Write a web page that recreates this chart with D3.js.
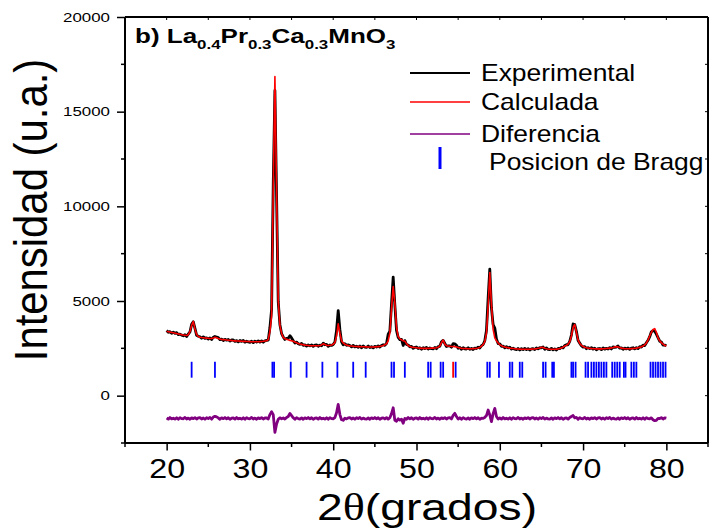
<!DOCTYPE html>
<html>
<head>
<meta charset="utf-8">
<script src="https://cdn.jsdelivr.net/npm/d3@7"></script>
<style>
  html, body { margin: 0; padding: 0; background: #fff; }
  svg { display: block; }
  text { font-family: "Liberation Sans", Arial, sans-serif; }
</style>
</head>
<body>
<svg id="chart" width="717" height="531"></svg>
<script>
// Scan: 2θ from 20° to 80° in 0.2° steps
const scanStart = 20, scanStep = 0.2;

// Observed intensity (counts), 10 points per row = 2° per row
const yObs = [
  3440, 3350, 3380, 3295, 3355, 3290, 3330, 3220, 3255, 3195,
  3165, 3215, 3130, 3250, 3365, 3765, 3900, 3555, 3185, 3140,
  3110, 3030, 3105, 3025, 3050, 2995, 3050, 2970, 3080, 3125,
  3100, 3070, 2960, 2985, 2915, 2975, 2930, 2970, 2885, 2940,
  2940, 2865, 2910, 2840, 2915, 2865, 2920, 2825, 2875, 2835,
  2820, 2875, 2800, 2880, 2835, 2895, 2835, 2895, 2825, 2900,
  2920, 2930, 3600, 4550, 11200, 16120, 10500, 4950, 3750, 3280,
  3100, 2970, 3025, 3030, 3170, 3050, 2900, 2780, 2830, 2745,
  2710, 2760, 2660, 2685, 2615, 2675, 2630, 2680, 2605, 2670,
  2680, 2610, 2670, 2635, 2775, 2690, 2710, 2610, 2675, 2655,
  2700, 2830, 3450, 4490, 3500, 2850, 2690, 2740, 2660, 2680,
  2650, 2580, 2655, 2575, 2610, 2555, 2620, 2530, 2620, 2565,
  2555, 2620, 2540, 2585, 2525, 2600, 2570, 2630, 2565, 2650,
  2690, 2660, 2760, 3250, 3400, 4850, 6260, 4800, 3450, 3075,
  2965, 2975, 2650, 2910, 2705, 2675, 2580, 2605, 2505, 2550,
  2570, 2490, 2530, 2455, 2535, 2490, 2550, 2460, 2520, 2485,
  2475, 2545, 2480, 2590, 2605, 2845, 2920, 2755, 2595, 2630,
  2630, 2560, 2745, 2735, 2660, 2505, 2550, 2450, 2530, 2475,
  2465, 2530, 2450, 2495, 2440, 2515, 2490, 2560, 2515, 2640,
  2700, 2900, 3450, 5140, 6680, 4630, 3750, 3570, 3000, 2750,
  2740, 2610, 2620, 2525, 2585, 2520, 2560, 2460, 2505, 2455,
  2435, 2490, 2410, 2485, 2435, 2495, 2430, 2485, 2410, 2470,
  2485, 2430, 2525, 2475, 2530, 2525, 2570, 2450, 2520, 2450,
  2435, 2500, 2420, 2470, 2415, 2495, 2480, 2560, 2525, 2650,
  2690, 2690, 2870, 3205, 3785, 3750, 3400, 2910, 2775, 2635,
  2565, 2585, 2480, 2540, 2485, 2535, 2460, 2510, 2425, 2480,
  2490, 2430, 2520, 2455, 2500, 2465, 2540, 2470, 2580, 2555,
  2570, 2620, 2510, 2525, 2450, 2510, 2470, 2520, 2445, 2515,
  2530, 2470, 2530, 2485, 2585, 2570, 2670, 2640, 2795, 2925,
  3115, 3375, 3440, 3400, 3250, 3065, 2880, 2835, 2675, 2670,
  2640
];

// Calculated profile (counts)
const yCalc = [
  3400, 3380, 3360, 3340, 3320, 3300, 3280, 3260, 3240, 3220,
  3200, 3190, 3180, 3220, 3380, 3720, 3920, 3520, 3230, 3130,
  3090, 3070, 3060, 3050, 3040, 3030, 3020, 3020, 3040, 3080,
  3060, 3020, 2990, 2970, 2960, 2950, 2940, 2930, 2920, 2910,
  2900, 2895, 2890, 2885, 2880, 2875, 2870, 2865, 2860, 2860,
  2855, 2850, 2850, 2850, 2850, 2850, 2855, 2860, 2870, 2890,
  2900, 2960, 3400, 4200, 11000, 16860, 10800, 5000, 3700, 3300,
  3080, 3010, 2980, 2950, 2920, 2900, 2870, 2830, 2790, 2760,
  2730, 2710, 2690, 2670, 2660, 2650, 2640, 2640, 2640, 2640,
  2640, 2640, 2650, 2680, 2740, 2700, 2660, 2650, 2660, 2680,
  2720, 2800, 3150, 3790, 3300, 2900, 2780, 2720, 2680, 2650,
  2630, 2620, 2610, 2600, 2600, 2590, 2590, 2580, 2580, 2580,
  2575, 2570, 2570, 2570, 2570, 2575, 2580, 2590, 2600, 2620,
  2650, 2690, 2740, 2900, 3300, 4600, 5760, 4900, 3600, 3120,
  3000, 2950, 2900, 2880, 2750, 2650, 2600, 2570, 2550, 2540,
  2530, 2520, 2510, 2500, 2500, 2500, 2500, 2500, 2505, 2510,
  2510, 2520, 2530, 2560, 2620, 2800, 2940, 2720, 2640, 2620,
  2610, 2600, 2600, 2590, 2570, 2540, 2520, 2500, 2490, 2490,
  2485, 2480, 2480, 2480, 2485, 2490, 2500, 2520, 2550, 2610,
  2700, 2850, 3300, 4700, 6500, 4800, 3500, 3050, 2900, 2780,
  2700, 2640, 2600, 2570, 2550, 2530, 2510, 2500, 2490, 2480,
  2470, 2465, 2460, 2455, 2450, 2450, 2450, 2450, 2455, 2460,
  2465, 2470, 2480, 2500, 2520, 2560, 2540, 2500, 2480, 2465,
  2455, 2450, 2450, 2455, 2460, 2470, 2490, 2520, 2560, 2620,
  2650, 2720, 2850, 3150, 3600, 3760, 3350, 2950, 2760, 2660,
  2600, 2560, 2530, 2510, 2500, 2490, 2480, 2475, 2470, 2470,
  2470, 2470, 2475, 2480, 2490, 2500, 2510, 2520, 2540, 2570,
  2590, 2570, 2540, 2510, 2495, 2485, 2480, 2480, 2480, 2485,
  2490, 2500, 2510, 2530, 2550, 2580, 2620, 2680, 2780, 2950,
  3150, 3350, 3500, 3540, 3350, 3050, 2900, 2800, 2720, 2660,
  2620
];

// Difference curve, plotted with an offset below the pattern
const yDiff = [
  -1180, -1240, -1155, -1225, -1190, -1235, -1170, -1250, -1160, -1215,
  -1220, -1150, -1230, -1185, -1245, -1175, -1210, -1160, -1235, -1170,
  -1160, -1230, -1180, -1245, -1165, -1210, -1150, -1240, -1130, -1090,
  -1120, -1175, -1250, -1170, -1215, -1155, -1220, -1165, -1245, -1190,
  -1180, -1240, -1155, -1225, -1190, -1235, -1170, -1250, -1160, -1215,
  -1220, -1150, -1230, -1185, -1245, -1175, -1210, -1160, -1235, -1170,
  -1180, -1230, -1000, -850, -1000, -1940, -1500, -1250, -1170, -1220,
  -1180, -1240, -1150, -1100, -940, -1050, -1170, -1250, -1160, -1215,
  -1235, -1175, -1250, -1170, -1215, -1155, -1220, -1165, -1245, -1190,
  -1180, -1240, -1155, -1225, -1190, -1235, -1170, -1250, -1160, -1215,
  -1220, -1160, -900, -460, -1000, -1270, -1300, -1190, -1230, -1170,
  -1160, -1230, -1180, -1245, -1165, -1210, -1150, -1240, -1185, -1225,
  -1235, -1175, -1250, -1170, -1215, -1155, -1220, -1165, -1245, -1190,
  -1170, -1230, -1160, -1240, -1165, -950, -640, -1300, -1350, -1220,
  -1290, -1240, -1460, -1200, -1245, -1155, -1220, -1165, -1245, -1190,
  -1180, -1240, -1155, -1225, -1190, -1235, -1170, -1250, -1160, -1215,
  -1220, -1150, -1230, -1185, -1245, -1175, -1210, -1160, -1235, -1170,
  -1160, -1230, -1040, -930, -1100, -1235, -1170, -1250, -1160, -1215,
  -1235, -1175, -1250, -1170, -1215, -1155, -1220, -1165, -1245, -1190,
  -1200, -1150, -1050, -760, -1020, -1370, -950, -670, -1100, -1230,
  -1180, -1240, -1155, -1225, -1190, -1235, -1170, -1250, -1160, -1215,
  -1220, -1150, -1230, -1185, -1245, -1175, -1210, -1160, -1235, -1170,
  -1160, -1230, -1180, -1245, -1165, -1210, -1150, -1240, -1185, -1225,
  -1235, -1175, -1250, -1170, -1215, -1155, -1220, -1165, -1245, -1190,
  -1180, -1240, -1155, -1100, -1050, -1170, -1150, -1250, -1160, -1215,
  -1220, -1150, -1230, -1185, -1245, -1175, -1210, -1160, -1235, -1170,
  -1160, -1230, -1180, -1245, -1165, -1210, -1150, -1240, -1185, -1225,
  -1235, -1175, -1250, -1170, -1215, -1155, -1220, -1165, -1245, -1190,
  -1180, -1240, -1155, -1225, -1190, -1235, -1170, -1250, -1160, -1215,
  -1220, -1170, -1270, -1320, -1300, -1200, -1210, -1160, -1235, -1170,
  -1190
];

// Bragg reflection positions (2θ)
const braggMain = [
  23.0, 25.8, 32.7, 32.9, 34.9, 36.8, 38.7, 40.5, 42.4, 43.9,
  47.0, 47.3, 48.6, 51.4, 51.7, 52.9, 53.2, 54.7, 58.5, 58.8,
  59.9, 61.2, 61.5, 62.4, 62.7, 65.2, 65.5, 66.3, 66.5, 68.6,
  68.8, 69.1, 70.3, 70.6, 71.0, 71.3, 71.6, 71.9, 72.2, 72.5,
  72.8, 73.5, 73.8, 74.1, 74.4, 74.9, 75.1, 75.8, 76.1, 76.4,
  78.1, 78.4, 78.7, 79.0, 79.3, 79.6, 79.9
];
const braggRed = [54.4];
const braggBand = [950, 1790];   // vertical extent of the tick row (counts)

// Axes
const xTicks = [20, 30, 40, 50, 60, 70, 80];
const xMinor = [15, 25, 35, 45, 55, 65, 75, 85];
const yTicks = [0, 5000, 10000, 15000, 20000];
const yMinor = [-2500, 2500, 7500, 12500, 17500];

const legendItems = ["Experimental", "Calculada", "Diferencia", "Posicion de Bragg"];

const svg = d3.select("#chart");
const x = d3.scaleLinear().domain([15, 85]).range([125, 708]);
const y = d3.scaleLinear().domain([-2500, 20000]).range([443, 17]);

svg.append("rect").attr("width", 717).attr("height", 531).attr("fill", "#fff");

const pts = arr => arr.map((v, i) => [scanStart + i * scanStep, v]);
const line = d3.line().x(d => x(d[0])).y(d => y(d[1]));

// Bragg ticks
const bragg = svg.append("g");
bragg.selectAll("line.b").data(braggMain).join("line")
  .attr("x1", d => x(d)).attr("x2", d => x(d))
  .attr("y1", y(braggBand[1])).attr("y2", y(braggBand[0]))
  .attr("stroke", "#0000ff").attr("stroke-width", 1.8);
bragg.selectAll("line.r").data(braggRed).join("line")
  .attr("x1", d => x(d)).attr("x2", d => x(d))
  .attr("y1", y(braggBand[1])).attr("y2", y(braggBand[0]))
  .attr("stroke", "#ff0000").attr("stroke-width", 1.8);

// Profiles
svg.append("path").datum(pts(yObs)).attr("d", line)
  .attr("fill", "none").attr("stroke", "#000").attr("stroke-width", 2.8)
  .attr("stroke-linejoin", "round");
svg.append("path").datum(pts(yCalc)).attr("d", line)
  .attr("fill", "none").attr("stroke", "#ff0000").attr("stroke-width", 1.6)
  .attr("stroke-linejoin", "round");
svg.append("path").datum(pts(yDiff)).attr("d", line)
  .attr("fill", "none").attr("stroke", "#800080").attr("stroke-width", 2.8)
  .attr("stroke-linejoin", "round");

// Frame
const axisColor = "#000";
const gx = svg.append("g").attr("transform", `translate(0,${y(-2500)})`)
  .call(d3.axisBottom(x).tickValues(xTicks).tickSize(7.5).tickPadding(8).tickFormat(d3.format("d")));
gx.append("g").selectAll("line").data(xMinor).join("line")
  .attr("x1", d => x(d)).attr("x2", d => x(d)).attr("y1", 0).attr("y2", 4)
  .attr("stroke", axisColor).attr("stroke-width", 1.5);
gx.select(".domain").attr("d", `M${x(15)},0H${x(85)}`).attr("stroke-width", 2);
gx.selectAll(".tick line").attr("stroke-width", 1.5);
// numerals are drawn slightly widened
gx.selectAll(".tick text").attr("font-size", 28).attr("fill", "#000")
  .attr("font-family", "Liberation Sans, Arial, sans-serif")
  .attr("transform", "scale(1.15,1)");

const gy = svg.append("g").attr("transform", `translate(${x(15)},0)`)
  .call(d3.axisLeft(y).tickValues(yTicks).tickSize(8).tickPadding(7).tickFormat(d3.format("d")));
gy.append("g").selectAll("line").data(yMinor).join("line")
  .attr("y1", d => y(d)).attr("y2", d => y(d)).attr("x1", 0).attr("x2", -4)
  .attr("stroke", axisColor).attr("stroke-width", 1.5);
gy.select(".domain").attr("d", `M0,${y(-2500)}V${y(20000)}`).attr("stroke-width", 2);
gy.selectAll(".tick line").attr("stroke-width", 1.5);
gy.selectAll(".tick text").attr("font-size", 13).attr("fill", "#000")
  .attr("font-family", "Liberation Sans, Arial, sans-serif")
  .attr("x", -15 / 1.3)
  .attr("transform", "scale(1.3,1)");

// Top and right frame lines with short inward ticks
svg.append("line").attr("x1", x(15)).attr("x2", x(85)).attr("y1", y(20000)).attr("y2", y(20000))
  .attr("stroke", axisColor).attr("stroke-width", 2);
svg.append("line").attr("x1", x(85)).attr("x2", x(85)).attr("y1", y(20000)).attr("y2", y(-2500))
  .attr("stroke", axisColor).attr("stroke-width", 2);
svg.append("g").selectAll("line").data(xTicks.concat(xMinor)).join("line")
  .attr("x1", d => x(d)).attr("x2", d => x(d)).attr("y1", y(20000)).attr("y2", y(20000) + 3)
  .attr("stroke", axisColor).attr("stroke-width", 1);
svg.append("g").selectAll("line").data(yTicks.concat(yMinor)).join("line")
  .attr("y1", d => y(d)).attr("y2", d => y(d)).attr("x1", x(85)).attr("x2", x(85) - 3)
  .attr("stroke", axisColor).attr("stroke-width", 1);

// Axis titles
svg.append("text").attr("transform", "translate(47,210) rotate(-90) scale(0.91,1)")
  .attr("text-anchor", "middle").attr("font-size", 46).text("Intensidad (u.a.)");
const xt = svg.append("text").attr("transform", "translate(427,520) scale(1.25,1)")
  .attr("text-anchor", "middle").attr("font-size", 37);
xt.append("tspan").text("2");
xt.append("tspan").attr("font-family", "Liberation Serif, Times New Roman, serif").text("θ");
xt.append("tspan").text("(grados)");

// Sample label
const title = svg.append("text").attr("transform", "translate(135,43) scale(1.3,1)")
  .attr("font-weight", "bold").attr("font-size", 20);
[["b) La", null], ["0.4", 1], ["Pr", null], ["0.3", 1], ["Ca", null], ["0.3", 1], ["MnO", null], ["3", 1]]
  .forEach(([t, sub], i, a) => {
    const prevSub = i > 0 && a[i - 1][1];
    title.append("tspan")
      .attr("font-size", sub ? 13 : 20)
      .attr("dy", sub ? 6 : (prevSub ? -6 : 0))
      .text(t);
  });

// Legend
const legendColors = ["#000", "#ff0000", "#800080"];
const legendY = [73, 102, 134];
const lg = svg.append("g");
legendItems.slice(0, 3).forEach((name, i) => {
  lg.append("line").attr("x1", 410).attr("x2", 470).attr("y1", legendY[i]).attr("y2", legendY[i])
    .attr("stroke", legendColors[i]).attr("stroke-width", i === 0 ? 1.8 : 1.4);
  lg.append("text").attr("transform", `translate(481,${legendY[i] + 7.5}) scale(1.15,1)`)
    .attr("font-size", 23).text(name);
});
lg.append("line").attr("x1", 440).attr("x2", 440).attr("y1", 147).attr("y2", 169)
  .attr("stroke", "#0000ff").attr("stroke-width", 3);
lg.append("text").attr("transform", "translate(489,170) scale(1.15,1)")
  .attr("font-size", 23).text(legendItems[3]);
</script>
</body>
</html>
